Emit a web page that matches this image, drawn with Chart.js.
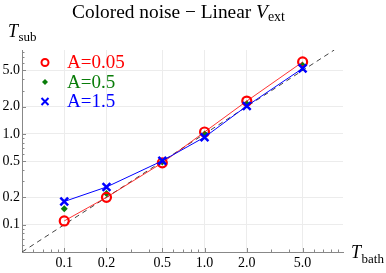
<!DOCTYPE html>
<html>
<head>
<meta charset="utf-8">
<script src="https://cdn.jsdelivr.net/npm/chart.js@4/dist/chart.umd.min.js"></script>
<style>
html,body{margin:0;padding:0;background:#fff;}
#wrap{width:386px;height:273px;position:relative;}
</style>
</head>
<body>
<div id="wrap"><canvas id="c" width="386" height="273"></canvas></div>
<script>
// ---- data ----
const tBath = [0.1, 0.2, 0.5, 1.0, 2.0, 5.0];
const tSubA005 = [0.11, 0.20, 0.48, 1.05, 2.3, 6.2];
const tSubA05  = [0.15, 0.22, 0.49, 1.0, 2.15, 5.7];
const tSubA15  = [0.18, 0.26, 0.505, 0.92, 2.03, 5.27];
const seriesLabels = ["A=0.05", "A=0.5", "A=1.5"];
const majorTicks = [0.1, 0.2, 0.5, 1.0, 2.0, 5.0];
const minorTicks = [0.06,0.07,0.08,0.09,0.3,0.4,0.6,0.7,0.8,0.9,3,4,6,7,8,9];
const xRange = [0.05, 9.7];
const yRange = [0.05, 8.4];
const diagonal = [yRange[0], yRange[1]]; // reference line T_sub = T_bath

const RED = '#ff0000', GREEN = '#0a7d0a', BLUE = '#0000ff';
const SERIF = '"Liberation Serif", "Times New Roman", serif';

const pts = ys => tBath.map((x, i) => ({x, y: ys[i]}));

const ticksPlugin = {
  id: 'inTicks',
  afterDatasetsDraw(chart) {
    const ctx = chart.ctx, xs = chart.scales.x, ys = chart.scales.y;
    const a = chart.chartArea;
    ctx.save();
    ctx.strokeStyle = '#888';
    ctx.lineWidth = 1;
    const draw = (list, len) => {
      list.forEach(v => {
        const px = Math.round(xs.getPixelForValue(v)) + 0.5;
        if (px >= a.left && px <= a.right) {
          ctx.beginPath(); ctx.moveTo(px, a.bottom); ctx.lineTo(px, a.bottom - len); ctx.stroke();
        }
        const py = Math.round(ys.getPixelForValue(v)) + 0.5;
        if (py >= a.top && py <= a.bottom) {
          ctx.beginPath(); ctx.moveTo(a.left, py); ctx.lineTo(a.left + len, py); ctx.stroke();
        }
      });
    };
    draw(majorTicks, 4);
    draw(minorTicks, 2.5);
    ctx.restore();
  }
};

const textPlugin = {
  id: 'texts',
  afterDraw(chart) {
    const ctx = chart.ctx;
    ctx.save();
    ctx.fillStyle = '#000';
    ctx.textBaseline = 'alphabetic';
    // title
    const t1 = 'Colored noise \u2212 Linear ';
    const measure = (fs) => {
      ctx.font = fs + 'px ' + SERIF; const a = ctx.measureText(t1).width;
      ctx.font = 'italic ' + fs + 'px ' + SERIF; const b = ctx.measureText('V').width;
      ctx.font = (fs * 0.72) + 'px ' + SERIF; const c = ctx.measureText('ext').width;
      return [a, b, c];
    };
    let m = measure(18);
    const fs = 18 * 213 / (m[0] + m[1] + m[2]);
    m = measure(fs);
    let x = 178.5 - (m[0] + m[1] + m[2]) / 2;
    ctx.font = fs + 'px ' + SERIF; ctx.fillText(t1, x, 17.5); x += m[0];
    ctx.font = 'italic ' + fs + 'px ' + SERIF; ctx.fillText('V', x, 17.5); x += m[1];
    ctx.font = (fs * 0.72) + 'px ' + SERIF; ctx.fillText('ext', x, 21);
    // axis labels
    ctx.font = 'italic 18px ' + SERIF; ctx.fillText('T', 8, 37);
    let wT = ctx.measureText('T').width;
    ctx.font = '13px ' + SERIF; ctx.fillText('sub', 8 + wT + 0.5, 41);
    ctx.font = 'italic 18px ' + SERIF; ctx.fillText('T', 351, 258);
    ctx.font = '13px ' + SERIF; ctx.fillText('bath', 351 + wT + 0.5, 262.5);
    // legend
    const ly = [62.5, 82, 101.5];
    const cols = [RED, GREEN, BLUE];
    ctx.font = '19px ' + SERIF;
    seriesLabels.forEach((s, i) => {
      ctx.fillStyle = cols[i];
      ctx.fillText(s, 67, ly[i] + 5.5);
    });
    // legend markers
    const mx = 45;
    ctx.lineWidth = 2;
    ctx.strokeStyle = RED;
    ctx.beginPath(); ctx.arc(mx, ly[0], 3.5, 0, Math.PI * 2); ctx.stroke();
    ctx.fillStyle = GREEN;
    ctx.beginPath(); ctx.moveTo(mx, ly[1] - 3); ctx.lineTo(mx + 3, ly[1]); ctx.lineTo(mx, ly[1] + 3); ctx.lineTo(mx - 3, ly[1]); ctx.closePath(); ctx.fill();
    ctx.strokeStyle = BLUE; ctx.lineWidth = 2;
    ctx.beginPath(); ctx.moveTo(mx - 3.5, ly[2] - 3.5); ctx.lineTo(mx + 3.5, ly[2] + 3.5);
    ctx.moveTo(mx + 3.5, ly[2] - 3.5); ctx.lineTo(mx - 3.5, ly[2] + 3.5); ctx.stroke();
    ctx.restore();
  }
};

new Chart(document.getElementById('c'), {
  type: 'scatter',
  data: {
    datasets: [
      {
        label: seriesLabels[2], data: pts(tSubA15), showLine: true,
        borderColor: BLUE, borderWidth: 1, backgroundColor: BLUE,
        pointStyle: 'crossRot', pointRadius: 5.5, pointBorderWidth: 2.5,
        pointBorderColor: BLUE, order: 1
      },
      {
        label: seriesLabels[0], data: pts(tSubA005), showLine: true,
        borderColor: 'rgba(255,0,0,0.8)', borderWidth: 1, backgroundColor: 'rgba(0,0,0,0)',
        pointStyle: 'circle', pointRadius: 4.5, pointBorderWidth: 2.2,
        pointBorderColor: RED, order: 2
      },
      {
        label: seriesLabels[1], data: pts(tSubA05), showLine: false,
        backgroundColor: GREEN, borderColor: GREEN,
        pointStyle: 'rectRot', pointRadius: 3.5, pointBorderWidth: 0, order: 3
      },
      {
        label: 'diag', data: diagonal.map(v => ({x: v, y: v})), showLine: true,
        borderColor: '#444', borderWidth: 1, borderDash: [5, 4],
        pointRadius: 0, order: 4
      }
    ]
  },
  options: {
    responsive: false,
    animation: false,
    layout: { padding: { top: 50, right: 43, left: 0, bottom: 0 } },
    plugins: { legend: { display: false }, title: { display: false }, tooltip: { enabled: false } },
    scales: {
      x: {
        type: 'logarithmic', min: xRange[0], max: xRange[1],
        afterBuildTicks: s => { s.ticks = majorTicks.map(v => ({value: v})); },
        afterFit: s => { s.height = 21; },
        ticks: { callback: v => Number(v).toFixed(1), font: { family: SERIF, size: 14 }, color: '#000', padding: 3, maxRotation: 0, autoSkip: false },
        grid: { color: '#ececec', drawTicks: false },
        border: { color: '#888' }
      },
      y: {
        type: 'logarithmic', min: yRange[0], max: yRange[1],
        afterBuildTicks: s => { s.ticks = majorTicks.map(v => ({value: v})); },
        afterFit: s => { s.width = 22; },
        ticks: { callback: v => Number(v).toFixed(1), font: { family: SERIF, size: 14 }, color: '#000', padding: 2, autoSkip: false },
        grid: { color: '#ececec', drawTicks: false },
        border: { color: '#888' }
      }
    }
  },
  plugins: [ticksPlugin, textPlugin]
});
</script>
</body>
</html>
